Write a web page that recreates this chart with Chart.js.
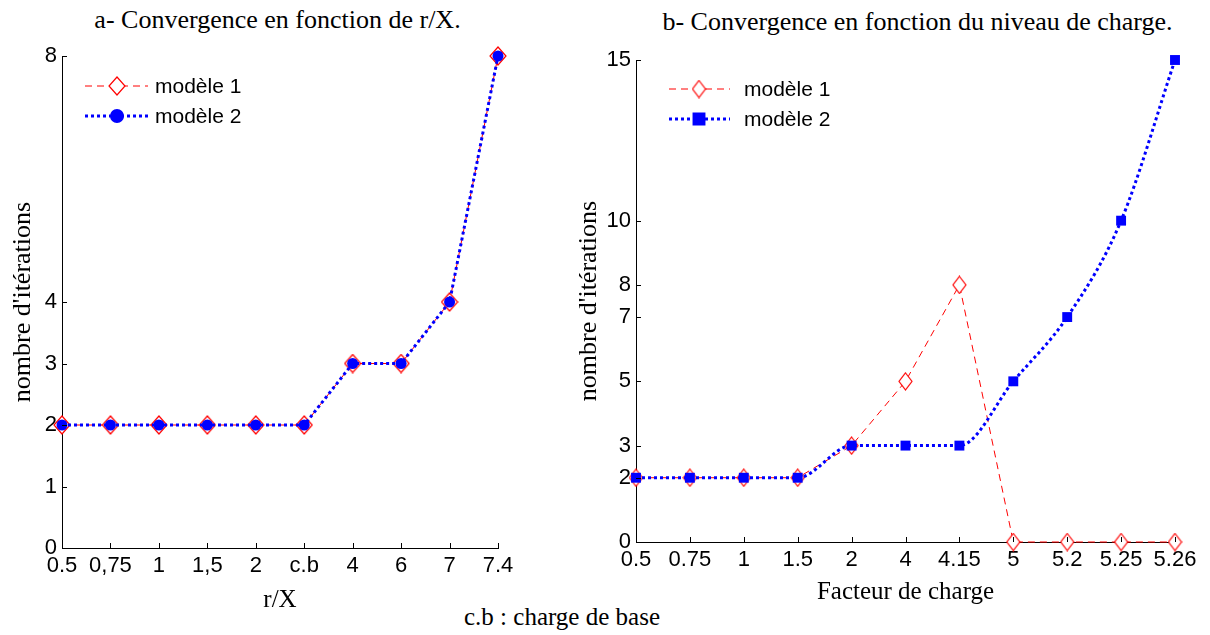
<!DOCTYPE html>
<html lang="fr">
<head>
<meta charset="UTF-8">
<title>Convergence</title>
<script src="https://cdn.jsdelivr.net/npm/chart.js@4/dist/chart.umd.min.js"></script>
<style>
  body { margin: 0; background: #fff; width: 1210px; height: 635px; position: relative; overflow: hidden; }
  .box { position: absolute; top: 0; height: 635px; }
  .ttl { position: absolute; font-family: "Liberation Serif", "Times New Roman", serif; color: #000; text-align: center; white-space: nowrap; }
</style>
</head>
<body>
<div class="ttl" style="left:0;width:555px;top:5px;font-size:26px;line-height:30px;">a- Convergence en fonction de r/X.</div>
<div class="ttl" style="left:640px;width:555px;top:7px;font-size:26px;line-height:30px;">b- Convergence en fonction du niveau de charge.</div>
<div class="ttl" style="left:362px;width:400px;top:602px;font-size:25px;line-height:30px;">c.b : charge de base</div>
<div class="box" style="left:0;width:545px;"><canvas id="chartA"></canvas></div>
<div class="box" style="left:565px;width:645px;"><canvas id="chartB"></canvas></div>
<script>
// data - chart a (r/X)
const labelsA = ['0.5', '0,75', '1', '1,5', '2', 'c.b', '4', '6', '7', '7.4'];
const modele1A = [2, 2, 2, 2, 2, 2, 3, 3, 4, 8];
const modele2A = [2, 2, 2, 2, 2, 2, 3, 3, 4, 8];
const yTicksA = [0, 1, 2, 3, 4, 8];

// data - chart b (facteur de charge)
const labelsB = ['0.5', '0.75', '1', '1.5', '2', '4', '4.15', '5', '5.2', '5.25', '5.26'];
const modele1B = [2, 2, 2, 2, 3, 5, 8, 0, 0, 0, 0];
const modele2B = [2, 2, 2, 2, 3, 3, 3, 5, 7, 10, 15];
const yTicksB = [0, 2, 3, 5, 7, 8, 10, 15];

const RED = '#ff0000';
const BLUE = '#0000ff';
const SANS = '"Liberation Sans", Arial, sans-serif';
const SERIF = '"Liberation Serif", "Times New Roman", serif';

// open diamond marker drawn on a little canvas
function diamond(w, h) {
  const c = document.createElement('canvas');
  c.width = w + 2; c.height = h + 2;
  const g = c.getContext('2d');
  g.beginPath();
  g.moveTo(1 + w / 2, 1);
  g.lineTo(1 + w, 1 + h / 2);
  g.lineTo(1 + w / 2, 1 + h);
  g.lineTo(1, 1 + h / 2);
  g.closePath();
  g.fillStyle = '#fff';
  g.fill();
  g.strokeStyle = RED;
  g.lineWidth = 1.2;
  g.stroke();
  return c;
}

// matlab style ticks pointing inside the axes
const insideTicks = {
  id: 'insideTicks',
  afterDraw(chart) {
    const ctx = chart.ctx, a = chart.chartArea;
    const x = chart.scales.x, y = chart.scales.y;
    ctx.save();
    ctx.strokeStyle = '#000';
    ctx.lineWidth = 1;
    ctx.beginPath();
    x.ticks.forEach((t, i) => {
      const px = Math.round(x.getPixelForTick(i)) + 0.5;
      ctx.moveTo(px, a.bottom);
      ctx.lineTo(px, a.bottom - 5);
    });
    y.ticks.forEach(t => {
      const py = Math.round(y.getPixelForValue(t.value)) + 0.5;
      ctx.moveTo(a.left, py);
      ctx.lineTo(a.left + 5, py);
    });
    ctx.stroke();
    ctx.restore();
  }
};

// legend inside the axes, top left
const boxLegend = {
  id: 'boxLegend',
  afterDraw(chart, args, opts) {
    const ctx = chart.ctx;
    ctx.save();
    opts.rows.forEach((r, i) => {
      const ds = chart.data.datasets[i];
      ctx.beginPath();
      ctx.setLineDash(ds.borderDash);
      ctx.strokeStyle = ds.borderColor;
      ctx.lineWidth = ds.borderWidth;
      ctx.moveTo(opts.x0, r.y);
      ctx.lineTo(opts.x1, r.y);
      ctx.stroke();
      ctx.setLineDash([]);
      const ps = ds.pointStyle;
      if (ps instanceof HTMLCanvasElement) {
        ctx.drawImage(ps, opts.xm - ps.width / 2, r.y - ps.height / 2);
      } else {
        Chart.helpers.drawPoint(ctx, {pointStyle: ps, radius: ds.pointRadius, borderWidth: 1, rotation: 0}, opts.xm, r.y);
        ctx.fillStyle = ds.pointBackgroundColor;
        ctx.fill();
      }
      ctx.fillStyle = '#000';
      ctx.font = '21px ' + SANS;
      ctx.textBaseline = 'middle';
      ctx.textAlign = 'left';
      ctx.fillText(ds.label, opts.xt, r.y + 1);
    });
    ctx.restore();
  }
};

function makeChart(id, cfg) {
  return new Chart(document.getElementById(id), {
    type: 'line',
    data: {
      labels: cfg.labels,
      datasets: [
        {
          label: 'modèle 1', data: cfg.m1, order: 2,
          borderColor: RED, borderWidth: 1, borderDash: [7, 5],
          pointStyle: cfg.marker1, pointRadius: 8,
          pointBackgroundColor: '#fff', pointBorderColor: RED,
          tension: 0, clip: false
        },
        {
          label: 'modèle 2', data: cfg.m2, order: 1,
          borderColor: BLUE, borderWidth: 3, borderDash: [3, 3],
          pointStyle: cfg.marker2, pointRadius: cfg.r2,
          pointBackgroundColor: BLUE, pointBorderColor: BLUE, pointBorderWidth: 0,
          cubicInterpolationMode: cfg.curve2, tension: 0, clip: false
        }
      ]
    },
    options: {
      responsive: true,
      maintainAspectRatio: false,
      animation: false,
      events: [],
      layout: { padding: cfg.pad },
      plugins: {
        legend: { display: false },
        tooltip: { enabled: false },
        boxLegend: cfg.legend
      },
      scales: {
        x: {
          grid: { display: false, drawTicks: false },
          border: { display: true, color: '#000', width: 1 },
          ticks: { color: '#000', font: { family: SANS, size: 22 }, padding: 5, autoSkip: false, maxRotation: 0 },
          title: { display: true, text: cfg.xTitle, color: '#000', font: { family: SERIF, size: 25 }, padding: { top: 0, bottom: 0 } },
          afterFit: s => { s.height = cfg.xh; }
        },
        y: {
          min: 0, max: cfg.ymax,
          grid: { display: false, drawTicks: false },
          border: { display: true, color: '#000', width: 1 },
          ticks: { color: '#000', font: { family: SANS, size: 22 }, padding: 5 },
          afterBuildTicks: s => { s.ticks = cfg.yTicks.map(v => ({ value: v })); },
          title: { display: true, text: "nombre d'itérations", color: '#000', font: { family: SERIF, size: 26 }, padding: { top: cfg.ytPad, bottom: 0 } },
          afterFit: s => { s.width = cfg.yw; }
        }
      }
    },
    plugins: [insideTicks, boxLegend]
  });
}

makeChart('chartA', {
  labels: labelsA, m1: modele1A, m2: modele2A, yTicks: yTicksA, ymax: 8,
  marker1: diamond(16, 18), marker2: 'circle', r2: 5.5, curve2: 'default',
  xTitle: 'r/X',
  pad: { left: 0, top: 56, right: 47, bottom: 20 }, yw: 62, xh: 67, ytPad: 8,
  legend: { x0: 85, x1: 148, xm: 117, xt: 155, rows: [{ y: 86 }, { y: 116 }] }
});

makeChart('chartB', {
  labels: labelsB, m1: modele1B, m2: modele2B, yTicks: yTicksB, ymax: 15,
  marker1: diamond(13, 17), marker2: 'rect', r2: 7, curve2: 'monotone',
  xTitle: 'Facteur de charge',
  pad: { left: 0, top: 60, right: 35, bottom: 28 }, yw: 71, xh: 65, ytPad: 9,
  legend: { x0: 669 - 565, x1: 730 - 565, xm: 699 - 565, xt: 744 - 565, rows: [{ y: 89 }, { y: 119 }] }
});
</script>
</body>
</html>
